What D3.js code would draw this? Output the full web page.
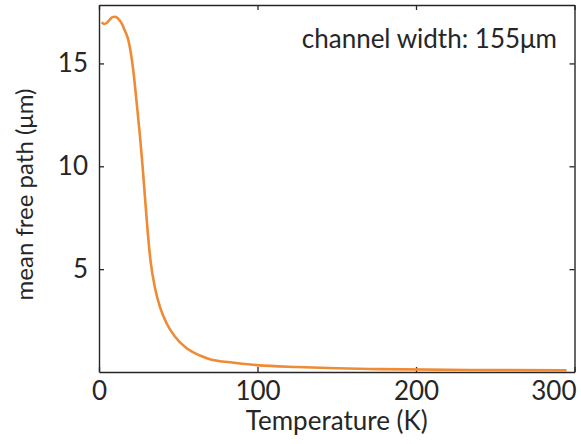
<!DOCTYPE html>
<html>
<head>
<meta charset="utf-8">
<script src="https://cdn.jsdelivr.net/npm/d3@7"></script>
<style>
  html, body { margin: 0; padding: 0; background: #fff; }
  svg { display: block; }
  text { font-family: Lato, "Open Sans", sans-serif; fill: #262626; }
</style>
</head>
<body>
<svg id="chart" width="581" height="444"></svg>
<script>
// Temperature (K)
const temperature = [1.7, 3.3, 5, 7, 8.5, 10, 11.5, 13, 14.3, 16, 18.5, 21.6, 23.8, 25.9, 27.6, 29.0, 30.7, 32.6, 35.3, 38.5, 42.7, 48, 55.3, 63.7, 70, 82.6, 99.5, 124.7, 150, 177.3, 234, 295];
// Mean free path (μm)
const meanFreePath = [17.0, 16.92, 16.98, 17.15, 17.25, 17.27, 17.22, 17.1, 16.95, 16.65, 16.14, 14.68, 13.06, 11.43, 9.9, 8.5, 6.85, 5.35, 4.1, 3.15, 2.36, 1.71, 1.15, 0.8, 0.62, 0.47, 0.335, 0.24, 0.18, 0.14, 0.10, 0.08];

const xTicks = [0, 100, 200, 300];
const yTicks = [5, 10, 15];
const annotation = "channel width: 155μm";

const svg = d3.select("#chart");
const margin = { left: 99, right: 6.5, top: 5, bottom: 72 };
const W = 581, H = 444;
const x = d3.scaleLinear().domain([0, 300]).range([margin.left, W - margin.right]);
const y = d3.scaleLinear().domain([0, 17.84]).range([H - margin.bottom, margin.top]);

const ink = "#262626";
const tickLen = 5;
const tickFont = "26px";

// Axes: bottom/left with labels, top/right mirrored, ticks pointing inward
const gx = svg.append("g").attr("transform", `translate(0,${y(0)})`)
  .call(d3.axisBottom(x).tickValues(xTicks).tickSizeInner(-tickLen).tickSizeOuter(0).tickPadding(10));
const gxTop = svg.append("g").attr("transform", `translate(0,${y.range()[1]})`)
  .call(d3.axisTop(x).tickValues(xTicks).tickSizeInner(-tickLen).tickSizeOuter(0).tickFormat(""));
const gy = svg.append("g").attr("transform", `translate(${x(0)},0)`)
  .call(d3.axisLeft(y).tickValues(yTicks).tickSizeInner(-tickLen).tickSizeOuter(0).tickPadding(11));
const gyRight = svg.append("g").attr("transform", `translate(${x(300)},0)`)
  .call(d3.axisRight(y).tickValues(yTicks).tickSizeInner(-tickLen).tickSizeOuter(0).tickFormat(""));

[gx, gxTop, gy, gyRight].forEach(g => {
  g.select(".domain").attr("stroke", ink).attr("stroke-width", 1.4);
  g.selectAll(".tick line").attr("stroke", ink).attr("stroke-width", 1.3);
  g.selectAll(".tick text").attr("fill", ink).style("font-size", tickFont).style("font-family", "Lato, sans-serif");
});

// keep the last x label inside the page
gx.selectAll(".tick text").filter(d => d === 300).attr("text-anchor", "end").attr("dx", "1.5");

// Curve
const line = d3.line()
  .x((d, i) => x(temperature[i]))
  .y(d => y(d))
  .curve(d3.curveMonotoneX);

svg.append("path")
  .datum(meanFreePath)
  .attr("fill", "none")
  .attr("stroke", "#EF8A35")
  .attr("stroke-width", 2.6)
  .attr("stroke-linejoin", "round")
  .attr("d", line);

// Axis titles
svg.append("text")
  .attr("x", (x(0) + x(300)) / 2)
  .attr("y", 430)
  .attr("text-anchor", "middle")
  .style("font-size", "26px")
  .text("Temperature (K)");

svg.append("text")
  .attr("transform", `translate(33,${(y(0) + y.range()[1]) / 2 + 6}) rotate(-90)`)
  .attr("text-anchor", "middle")
  .style("font-size", "24px")
  .text("mean free path (μm)");

// Annotation
svg.append("text")
  .attr("x", 557)
  .attr("y", 48)
  .attr("text-anchor", "end")
  .style("font-size", "26px")
  .text(annotation);
</script>
</body>
</html>
